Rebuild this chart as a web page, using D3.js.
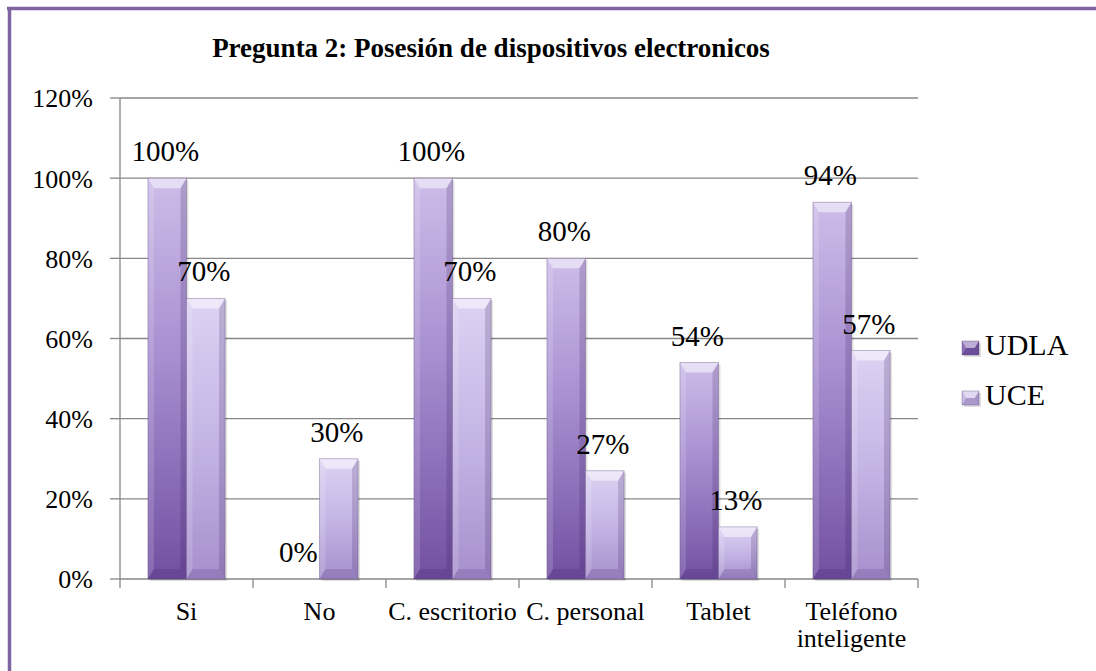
<!DOCTYPE html>
<html>
<head>
<meta charset="utf-8">
<script src="https://cdn.jsdelivr.net/npm/d3@7"></script>
<style>
  body { margin: 0; background: #fff; }
  svg text { font-family: "Liberation Serif", "Times New Roman", serif; }
</style>
</head>
<body>
<svg id="main-svg" width="1096" height="671"></svg>
<script>
// chart data
var categories = ["Si", "No", "C. escritorio", "C. personal", "Tablet", "Teléfono inteligente"];
var xLabels = [["Si"], ["No"], ["C. escritorio"], ["C. personal"], ["Tablet"], ["Teléfono", "inteligente"]];
var udla = [1.00, 0.00, 1.00, 0.80, 0.54, 0.94];
var uce = [0.70, 0.30, 0.70, 0.27, 0.13, 0.57];
var seriesNames = ["UDLA", "UCE"];
var yTicks = [0, 0.2, 0.4, 0.6, 0.8, 1.0, 1.2];

var serif = "Liberation Serif, Times New Roman, serif";
var svg = d3.select("#main-svg");
var defs = svg.append("defs");

// gradients per series (per bar bounding box)
function addGrad(id, stops) {
    var g = defs.append("linearGradient").attr("id", id)
        .attr("x1", 0).attr("y1", 0).attr("x2", 0).attr("y2", 1);
    stops.forEach(function (s) {
        g.append("stop").attr("offset", s[0]).attr("stop-color", s[1]);
    });
}
addGrad("g-udla", [[0, "#cdbde9"], [0.45, "#a68ed0"], [1, "#7250a2"]]);
addGrad("g-uce", [[0, "#ddd2f3"], [0.5, "#c5b5e5"], [1, "#a690cd"]]);
var fills = ["url(#g-udla)", "url(#g-uce)"];
var markerFills = ["#7a5aa8", "#c2b2e2"];

// frame (only top and left edges show)
svg.append("line").attr("x1", 7).attr("x2", 1096).attr("y1", 8.5).attr("y2", 8.5)
    .attr("stroke", "#8064a2").attr("stroke-width", 3.5);
svg.append("line").attr("x1", 9.5).attr("x2", 9.5).attr("y1", 7).attr("y2", 671)
    .attr("stroke", "#8064a2").attr("stroke-width", 3.5);

// title
svg.append("text")
    .attr("x", 491).attr("y", 57)
    .attr("text-anchor", "middle")
    .attr("font-family", serif)
    .attr("font-weight", "bold")
    .attr("font-size", 27)
    .text("Pregunta 2: Posesión de dispositivos electronicos");

// scales
var x0 = d3.scaleBand().domain(categories).range([120, 918]).paddingInner(0.42).paddingOuter(0.21);
var x1 = d3.scaleBand().domain(seriesNames).range([0, x0.bandwidth()]);
var y = d3.scaleLinear().domain([0, 1.2]).range([579, 98]);

// gridlines
svg.append("g").selectAll("line").data(yTicks.slice(1)).enter().append("line")
    .attr("x1", 120).attr("x2", 918)
    .attr("y1", function (d) { return y(d); }).attr("y2", function (d) { return y(d); })
    .attr("stroke", "#878787").attr("stroke-width", 1.3);

// y axis
var yAxis = svg.append("g");
yAxis.append("line").attr("x1", 120).attr("x2", 120).attr("y1", y(1.2)).attr("y2", y(0))
    .attr("stroke", "#878787").attr("stroke-width", 1.3);
yAxis.selectAll("line.tick").data(yTicks).enter().append("line").attr("class", "tick")
    .attr("x1", 110).attr("x2", 120)
    .attr("y1", function (d) { return y(d); }).attr("y2", function (d) { return y(d); })
    .attr("stroke", "#878787").attr("stroke-width", 1.3);
yAxis.selectAll("text").data(yTicks).enter().append("text")
    .attr("x", 93).attr("y", function (d) { return y(d); })
    .attr("dy", "0.36em")
    .attr("text-anchor", "end")
    .attr("font-family", serif)
    .attr("font-size", 26)
    .text(d3.format(".0%"));

// x axis
var step = x0.step();
var bounds = d3.range(categories.length + 1).map(function (i) { return 120 + i * step; });
var xAxis = svg.append("g");
xAxis.append("line").attr("x1", 120).attr("x2", 918).attr("y1", y(0)).attr("y2", y(0))
    .attr("stroke", "#878787").attr("stroke-width", 1.3);
xAxis.selectAll("line.tick").data(bounds).enter().append("line").attr("class", "tick")
    .attr("x1", function (d) { return d; }).attr("x2", function (d) { return d; })
    .attr("y1", y(0)).attr("y2", y(0) + 9)
    .attr("stroke", "#878787").attr("stroke-width", 1.3);
xAxis.selectAll("text").data(categories).enter().append("text")
    .attr("x", function (d) { return x0(d) + x0.bandwidth() / 2; })
    .attr("y", 620)
    .attr("text-anchor", "middle")
    .attr("font-family", serif)
    .attr("font-size", 26)
    .each(function (d, i) {
        var t = d3.select(this);
        xLabels[i].forEach(function (line, j) {
            t.append("tspan").attr("x", x0(d) + x0.bandwidth() / 2)
                .attr("dy", j === 0 ? 0 : 27).text(line);
        });
    });

// bars
var rows = [];
categories.forEach(function (c, i) {
    rows.push({cat: c, s: 0, v: udla[i]});
    rows.push({cat: c, s: 1, v: uce[i]});
});

function drawBevelBar(g, bx, by, bw, bh, fill) {
    if (bh <= 0) return;
    var d = Math.min(10, bh / 2), sd = Math.min(6, bw / 4);
    g.append("rect").attr("x", bx + 2).attr("y", by + 2).attr("width", bw).attr("height", bh)
        .attr("fill", "#000").attr("opacity", 0.12);
    g.append("rect").attr("x", bx).attr("y", by).attr("width", bw).attr("height", bh).attr("fill", fill);
    // top bevel
    g.append("polygon").attr("points", [[bx, by], [bx + bw, by], [bx + bw - sd, by + d], [bx + sd, by + d]].join(" "))
        .attr("fill", "#fff").attr("opacity", 0.5);
    // left bevel
    g.append("polygon").attr("points", [[bx, by], [bx + sd, by + d], [bx + sd, by + bh - d], [bx, by + bh]].join(" "))
        .attr("fill", "#fff").attr("opacity", 0.15);
    // right bevel
    g.append("polygon").attr("points", [[bx + bw, by], [bx + bw, by + bh], [bx + bw - sd, by + bh - d], [bx + bw - sd, by + d]].join(" "))
        .attr("fill", "#2a1050").attr("opacity", 0.18);
    // bottom bevel
    g.append("polygon").attr("points", [[bx, by + bh], [bx + sd, by + bh - d], [bx + bw - sd, by + bh - d], [bx + bw, by + bh]].join(" "))
        .attr("fill", "#2a1050").attr("opacity", 0.15);
    g.append("rect").attr("x", bx).attr("y", by).attr("width", bw).attr("height", bh)
        .attr("fill", "none").attr("stroke", "#5d477f").attr("stroke-opacity", 0.45).attr("stroke-width", 0.8);
}

var barG = svg.append("g");
rows.forEach(function (r) {
    var bx = x0(r.cat) + x1(seriesNames[r.s]);
    drawBevelBar(barG, bx, y(r.v), x1.bandwidth(), y(0) - y(r.v), fills[r.s]);
});

// data labels
svg.append("g").selectAll("text").data(rows).enter().append("text")
    .attr("x", function (r) { return x0(r.cat) + x1(seriesNames[r.s]) + x1.bandwidth() / 2 - 2; })
    .attr("y", function (r) { return y(r.v) - 17; })
    .attr("text-anchor", "middle")
    .attr("font-family", serif)
    .attr("font-size", 29)
    .text(function (r) { return d3.format(".0%")(r.v); });

// legend
var legend = svg.append("g");
seriesNames.forEach(function (name, i) {
    var ly = 355 + i * 50;
    var lg = legend.append("g");
    drawBevelBar(lg, 962, ly - 14, 17, 14, markerFills[i]);
    lg.append("text").attr("x", 985).attr("y", ly)
        .attr("font-family", serif)
        .attr("font-size", 30).text(name);
});
</script>
</body>
</html>
